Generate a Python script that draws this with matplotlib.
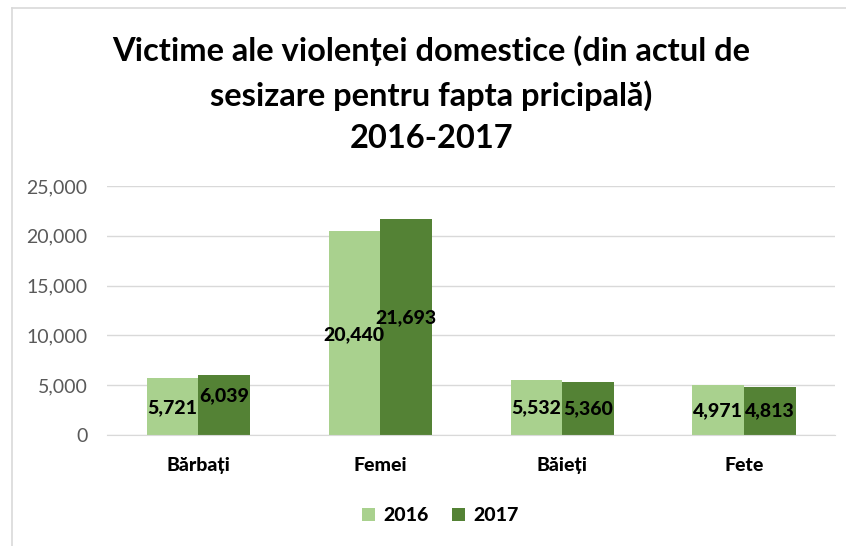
import matplotlib
matplotlib.use("Agg")
import matplotlib.pyplot as plt
from matplotlib.lines import Line2D
import numpy as np

categories = ["Bărbați", "Femei", "Băieți", "Fete"]
series_names = ["2016", "2017"]
values_2016 = [5721, 20440, 5532, 4971]
values_2017 = [6039, 21693, 5360, 4813]
yticks = [0, 5000, 10000, 15000, 20000, 25000]
title = "Victime ale violenței domestice (din actul de\nsesizare pentru fapta pricipală)\n2016-2017"

c_light = "#a9d18e"
c_dark = "#548235"
FONT = ["Lato", "DejaVu Sans"]
plt.rcParams['font.family'] = FONT

fig = plt.figure(figsize=(8.46, 5.46), dpi=100)
ax = fig.add_axes([0.1265, 0.2033, 0.987 - 0.1265, 0.6593 - 0.2033])

x = np.arange(len(categories))
w = 0.283
b1 = ax.bar(x - w / 2, values_2016, w, color=c_light, label=series_names[0], zorder=2)
b2 = ax.bar(x + w / 2, values_2017, w, color=c_dark, label=series_names[1], zorder=2)

# labels centred in bars; when the 2017 bar is taller its label is nudged up
# (as the source chart does to avoid collisions)
for i, (r1, r2) in enumerate(zip(b1, b2)):
    v1, v2 = r1.get_height(), r2.get_height()
    up = 7 if v2 > v1 else 0
    for r, v, dy in ((r1, v1, -1 if up else 0), (r2, v2, up)):
        ax.annotate(f"{v:,.0f}", (r.get_x() + r.get_width() / 2, v / 2),
                    xytext=(0, dy), textcoords="offset points",
                    ha="center", va="center", fontsize=14, fontweight=900,
                    color="black", zorder=3)

ax.set_xlim(-0.5, len(categories) - 0.5)
ax.set_ylim(0, 25000)
ax.set_yticks(yticks)
ax.set_yticklabels([f"{t:,}" for t in yticks])
ax.yaxis.grid(True, color="#d9d9d9", linewidth=1, zorder=0)
ax.set_axisbelow(True)
for s in ["top", "right", "left"]:
    ax.spines[s].set_visible(False)
ax.spines["bottom"].set_color("#d9d9d9")
ax.tick_params(axis="y", length=0, labelsize=14, labelcolor="#595959", pad=14)
ax.tick_params(axis="x", length=0, pad=16)
ax.set_xticks(x)
ax.set_xticklabels(categories, fontsize=14, fontweight=900, color="black")

fig.text(0.51, 0.935, title, ha="center", va="top", fontsize=23.5,
         fontweight="bold", linespacing=1.55)

leg = fig.legend(handles=[b1, b2], labels=series_names, loc="center",
                 bbox_to_anchor=(0.52, 0.055), ncol=2, frameon=False,
                 prop={"family": FONT, "weight": 900, "size": 14},
                 handlelength=0.7, handleheight=0.7, handletextpad=0.4,
                 columnspacing=1.2)

fig.add_artist(Line2D([12 / 846, 12 / 846], [0, 1 - 8 / 546],
                      transform=fig.transFigure, color="#d9d9d9", linewidth=1.2))
fig.add_artist(Line2D([12 / 846, 1], [1 - 8 / 546, 1 - 8 / 546],
                      transform=fig.transFigure, color="#d9d9d9", linewidth=1.2))

fig.savefig("out.png", dpi=100)
